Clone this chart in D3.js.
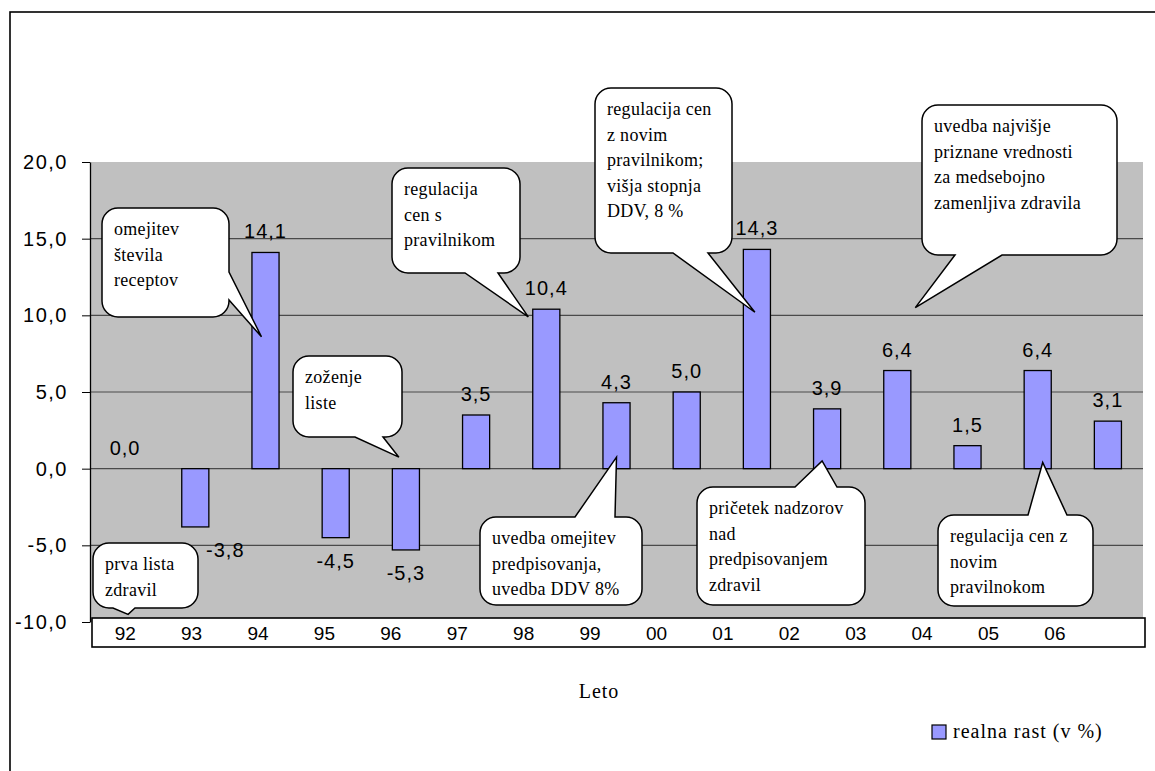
<!DOCTYPE html>
<html>
  <head>
    <meta charset="UTF-8" />
    <script src="https://cdnjs.cloudflare.com/ajax/libs/d3/7.8.5/d3.min.js"></script>
    <style>
      body { margin: 0; background: #fff; }
    </style>
  </head>
  <body>
    <svg id="chart" width="1155" height="771"></svg>
    <script>
      // data
      let years = ["92", "93", "94", "95", "96", "97", "98", "99", "00", "01", "02", "03", "04", "05", "06"];
      let growth = [0.0, -3.8, 14.1, -4.5, -5.3, 3.5, 10.4, 4.3, 5.0, 14.3, 3.9, 6.4, 1.5, 6.4, 3.1];
      let yTicks = [-10, -5, 0, 5, 10, 15, 20];
      let seriesName = "realna rast (v %)";
      let axisTitle = "Leto";

      // callout texts and the (year, value) they point at
      let noteTexts = [
        ["omejitev", "števila", "receptov"],
        ["zoženje", "liste"],
        ["prva lista", "zdravil"],
        ["regulacija", "cen s", "pravilnikom"],
        ["regulacija cen", "z novim", "pravilnikom;", "višja stopnja", "DDV, 8 %"],
        ["uvedba najvišje", "priznane vrednosti", "za medsebojno", "zamenljiva zdravila"],
        ["uvedba omejitev", "predpisovanja,", "uvedba DDV 8%"],
        ["pričetek nadzorov", "nad", "predpisovanjem", "zdravil"],
        ["regulacija cen z", "novim", "pravilnokom"]
      ];
      let noteYears = ["94", "96", "92", "98", "01", "03", "99", "02", "05"];
      let noteValues = [8.6, 0.75, -9.5, 9.9, 10.2, 10.5, 0.75, 0.5, 0.4];

      // layout of the callout boxes (px)
      let noteBoxes = [
        { x: 102, y: 208, w: 127, h: 109, side: "right", t0: 272, t1: 300, dx: -4 },
        { x: 293, y: 356, w: 109, h: 81, side: "bottom", t0: 355, t1: 383, dx: -7 },
        { x: 93, y: 543, w: 105, h: 65, side: "bottom", t0: 113, t1: 135, dx: 3 },
        { x: 392, y: 168, w: 128, h: 105, side: "bottom", t0: 465, t1: 498, dx: -18 },
        { x: 595, y: 88, w: 137, h: 165, side: "bottom", t0: 673, t1: 708, dx: -2 },
        { x: 922, y: 105, w: 195, h: 150, side: "bottom", t0: 955, t1: 1002, dx: 18 },
        { x: 480, y: 517, w: 162, h: 88, side: "top", t0: 575, t1: 615, dx: 0 },
        { x: 697, y: 487, w: 168, h: 118, side: "top", t0: 795, t1: 837, dx: -5 },
        { x: 938, y: 515, w: 155, h: 91, side: "top", t0: 1028, t1: 1067, dx: 5 }
      ];
      let labelNudge = { "93": 30 };

      let plot = { left: 90, right: 1143, top: 162, bottom: 622 };
      let labelBox = { x: 92, y: 618, w: 1053, h: 29 };

      let SANS = '"Liberation Sans", Arial, Helvetica, sans-serif';
      let SERIF = '"Liberation Serif", "Times New Roman", "DejaVu Serif", serif';

      let locale = d3.formatLocale({ decimal: ",", thousands: ".", grouping: [3], currency: ["", ""], minus: "-" });
      let fmt = locale.format(".1f");

      let svg = d3.select("#chart");

      // outer frame
      svg.append("rect")
        .attr("x", 10).attr("y", 12)
        .attr("width", 1200).attr("height", 800)
        .attr("fill", "none").attr("stroke", "#000").attr("stroke-width", 1.6);

      let xScale = d3.scaleBand()
        .domain(years)
        .range([plot.left, plot.right])
        .paddingInner(0.614)
        .paddingOuter(0.307);

      let yScale = d3.scaleLinear()
        .domain([-10, 20])
        .range([plot.bottom, plot.top]);

      // plot background
      svg.append("rect")
        .attr("x", plot.left).attr("y", plot.top)
        .attr("width", plot.right - plot.left).attr("height", plot.bottom - plot.top)
        .attr("fill", "#c0c0c0");

      // gridlines
      svg.append("g")
        .selectAll("line")
        .data(yTicks.filter(d => d > -10 && d < 20))
        .enter()
        .append("line")
        .attr("x1", plot.left).attr("x2", plot.right)
        .attr("y1", d => yScale(d)).attr("y2", d => yScale(d))
        .attr("stroke", "#4a4a4a").attr("stroke-width", 1.2);

      // bars
      let rows = years.map((y, i) => ({ year: y, value: growth[i] }));

      svg.append("g")
        .selectAll("rect")
        .data(rows.filter(d => d.value !== 0))
        .enter()
        .append("rect")
        .attr("x", d => xScale(d.year))
        .attr("width", xScale.bandwidth())
        .attr("y", d => yScale(Math.max(0, d.value)))
        .attr("height", d => Math.abs(yScale(d.value) - yScale(0)))
        .attr("fill", "#9999ff")
        .attr("stroke", "#000")
        .attr("stroke-width", 1.3);

      // value labels
      svg.append("g")
        .selectAll("text")
        .data(rows)
        .enter()
        .append("text")
        .attr("x", d => xScale(d.year) + xScale.bandwidth() / 2 + (labelNudge[d.year] || 0))
        .attr("y", d => d.value < 0 ? yScale(d.value) + 30 : yScale(d.value) - 14)
        .attr("text-anchor", "middle")
        .style("font-family", SANS)
        .style("font-size", "20px")
        .style("letter-spacing", "1px")
        .attr("fill", "#000")
        .text(d => fmt(d.value));

      // y axis
      let yAxis = svg.append("g")
        .attr("transform", `translate(${plot.left},0)`)
        .call(d3.axisLeft(yScale).tickValues(yTicks).tickFormat(fmt).tickSize(8).tickPadding(14).tickSizeOuter(0));
      yAxis.selectAll("text")
        .style("font-family", SANS)
        .style("font-size", "20px")
        .style("letter-spacing", "1.5px")
        .attr("fill", "#000");
      yAxis.selectAll("line").attr("stroke", "#000");
      yAxis.select(".domain").attr("stroke", "#000").attr("stroke-width", 1.3);

      // category label box
      svg.append("rect")
        .attr("x", labelBox.x).attr("y", labelBox.y)
        .attr("width", labelBox.w).attr("height", labelBox.h)
        .attr("fill", "#fff").attr("stroke", "#000").attr("stroke-width", 1.6);

      let labelScale = d3.scaleBand()
        .domain(years)
        .range([labelBox.x, labelBox.x + labelBox.w * 0.946]);

      svg.append("g")
        .selectAll("text")
        .data(years)
        .enter()
        .append("text")
        .attr("x", d => labelScale(d) + labelScale.bandwidth() / 2)
        .attr("y", labelBox.y + 22)
        .attr("text-anchor", "middle")
        .style("font-family", SANS)
        .style("font-size", "19px")
        .attr("fill", "#000")
        .text(d => d);

      // axis title
      svg.append("text")
        .attr("x", 599).attr("y", 698)
        .attr("text-anchor", "middle")
        .style("font-family", SERIF)
        .style("font-size", "20px")
        .style("letter-spacing", "1px")
        .text(axisTitle);

      // legend
      let legend = svg.append("g").attr("transform", "translate(932,725)");
      legend.append("rect")
        .attr("width", 14).attr("height", 14)
        .attr("fill", "#9999ff").attr("stroke", "#000").attr("stroke-width", 1.2);
      legend.append("text")
        .attr("x", 21).attr("y", 13)
        .style("font-family", SERIF)
        .style("font-size", "20px")
        .style("letter-spacing", "1px")
        .text(seriesName);

      // callouts
      function bubblePath(b, tip) {
        let r = 16;
        let x = b.x, y = b.y, w = b.w, h = b.h;
        let p = d3.path();
        p.moveTo(x + r, y);
        if (b.side === "top") {
          p.lineTo(b.t0, y);
          p.lineTo(tip[0], tip[1]);
          p.lineTo(b.t1, y);
        }
        p.lineTo(x + w - r, y);
        p.arcTo(x + w, y, x + w, y + r, r);
        if (b.side === "right") {
          p.lineTo(x + w, b.t0);
          p.lineTo(tip[0], tip[1]);
          p.lineTo(x + w, b.t1);
        }
        p.lineTo(x + w, y + h - r);
        p.arcTo(x + w, y + h, x + w - r, y + h, r);
        if (b.side === "bottom") {
          p.lineTo(b.t1, y + h);
          p.lineTo(tip[0], tip[1]);
          p.lineTo(b.t0, y + h);
        }
        p.lineTo(x + r, y + h);
        p.arcTo(x, y + h, x, y + h - r, r);
        p.lineTo(x, y + r);
        p.arcTo(x, y, x + r, y, r);
        p.closePath();
        return p.toString();
      }

      let notes = noteTexts.map((lines, i) => ({
        lines: lines,
        box: noteBoxes[i],
        tip: [
          xScale(noteYears[i]) + xScale.bandwidth() / 2 + noteBoxes[i].dx,
          yScale(noteValues[i])
        ]
      }));

      let noteG = svg.append("g")
        .selectAll("g")
        .data(notes)
        .enter()
        .append("g");

      noteG.append("path")
        .attr("d", d => bubblePath(d.box, d.tip))
        .attr("fill", "#fff")
        .attr("stroke", "#000")
        .attr("stroke-width", 1.5)
        .attr("stroke-linejoin", "miter");

      noteG.each(function(d) {
        d3.select(this)
          .selectAll("text")
          .data(d.lines)
          .enter()
          .append("text")
          .attr("x", d.box.x + 12)
          .attr("y", (l, j) => d.box.y + 27 + j * 25.5)
          .style("font-family", SERIF)
          .style("font-size", "18px")
          .style("letter-spacing", "0.3px")
          .attr("fill", "#000")
          .text(l => l);
      });
    </script>
  </body>
</html>
